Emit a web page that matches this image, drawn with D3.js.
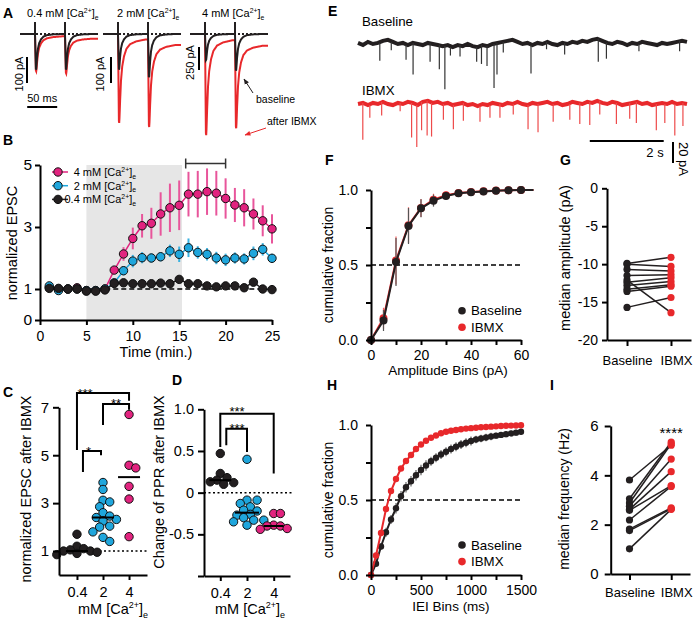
<!DOCTYPE html>
<html>
<head>
<meta charset="utf-8">
<script src="https://cdn.jsdelivr.net/npm/d3@7"></script>
<style>
body { margin: 0; background: #fff; }
svg { display: block; }
</style>
</head>
<body>
<div id="fig"></div>
<script>
// ---------------- data ----------------
// A: single EPSC shape (normalized to peak), time in ms after the stimulus
var shapeT    = [0, 0.8, 1.6, 2.5, 3.5, 5, 7, 10, 14, 20, 30, 45];
var shapeBase = [0, -0.5, -1, -0.82, -0.6, -0.38, -0.24, -0.14, -0.07, -0.03, -0.01, 0];
var shapeIbmx = [0, -0.5, -1, -0.9, -0.72, -0.5, -0.35, -0.24, -0.16, -0.11, -0.08, -0.06];
var stimTimes = [25, 75];
var aTitles = ["0.4 mM ", "2 mM ", "4 mM "];
var peakBase = [[146, 146], [146, 177], [304, 424]];
var peakIbmx = [[150, 150], [358, 352], [1150, 1000]];
var aBars = [100, 100, 250];

// B: time course
var timeMin = [1,2,3,4,5,6,7,8,9,10,11,12,13,14,15,16,17,18,19,20,21,22,23,24,25];
var epsc4  = [1.05,1.0,1.0,1.04,0.95,0.95,1.0,1.61,2.13,2.63,3.04,3.12,3.42,3.62,3.70,4.06,4.06,4.14,4.09,3.92,3.71,3.62,3.42,3.20,2.94];
var err4   = [0.05,0.04,0.03,0.04,0.04,0.04,0.05,0.12,0.22,0.35,0.38,0.5,0.7,0.78,0.8,0.72,0.75,0.75,0.72,0.65,0.55,0.6,0.5,0.5,0.47];
var epsc2  = [1.1,0.95,1.0,1.0,0.95,0.95,1.0,1.2,1.59,1.9,2.01,2.0,2.04,2.23,2.12,2.33,2.18,2.12,2.0,1.94,2.0,1.97,2.15,2.28,1.99];
var err2   = [0.05,0.04,0.03,0.03,0.03,0.03,0.04,0.1,0.15,0.2,0.18,0.15,0.15,0.2,0.25,0.3,0.2,0.2,0.2,0.2,0.18,0.18,0.22,0.2,0.15];
var epsc04 = [1.02,1.02,1.0,1.0,0.93,0.93,0.97,1.18,1.2,1.17,1.17,1.17,1.19,1.17,1.31,1.17,1.17,1.1,1.07,1.1,1.1,1.04,1.22,1.0,0.98];
var err04  = [0.03,0.03,0.03,0.03,0.03,0.03,0.03,0.06,0.07,0.06,0.06,0.06,0.07,0.06,0.08,0.07,0.07,0.06,0.06,0.06,0.06,0.06,0.07,0.05,0.05];

// C: normalized EPSC after IBMX
var caCats = ["0.4", "2", "4"];
var c04 = [1.7, 1.2, 1.1, 1.05, 1.0, 1.0, 0.95, 0.9, 0.85];
var c2  = [3.86, 3.57, 3.12, 3.05, 2.85, 2.6, 2.46, 2.4, 2.32, 2.25, 2.04, 2.0, 1.8, 1.57, 1.4];
var c4  = [6.7, 4.58, 4.47, 3.7, 3.17, 1.6];

// D: change of PPR after IBMX
var d04 = [0.47, 0.23, 0.18, 0.15, 0.13, 0.12, 0.1];
var d2  = [0.40, -0.09, -0.09, -0.13, -0.17, -0.21, -0.22, -0.26, -0.27, -0.3, -0.33, -0.33, -0.35, -0.39];
var d4  = [-0.25, -0.25, -0.39, -0.40, -0.40, -0.43, -0.44];

// E: sEPSC traces (baseline wander in pA, events as [time s, amplitude pA])
var eBaseWander = [1,-1,2,0,1,3,4,2,0,1,-1,1,0,-1,1,0,-1,-2,-1,-3,-1,-2,0,-2,-3,-1,-2,0,1,2,3,4,2,0,1,-1,1,0,2,0,-1,1,0,2,1,3,2,4,5,3,1,0,2,1,-1,1,0,2,1,0,-1,1,0,1,2,3,2];
var eIbmxWander = [0,1,-1,1,0,2,0,-1,1,0,2,1,-1,2,3,1,2,0,1,-1,0,1,-1,0,-2,0,-1,1,0,-1,1,0,2,0,-1,1,0,1,2,0,1,-1,0,2,1,0,2,1,3,1,0,2,1,-1,0,1,2,0,1,-1,0,1,0,2,0,1,0];
var eBaseEvents = [[0.59,17],[1.30,14],[1.49,30],[1.95,18],[2.20,23],[2.35,41],[2.76,11],[3.21,14],[3.34,18],[3.49,19],[3.68,42],[3.76,30],[3.93,10],[4.68,27],[5.59,11],[6.50,22],[6.72,15],[8.70,10],[0.9,8],[2.5,8],[5.1,7],[7.6,7]];
var eIbmxEvents = [[0.13,35],[0.32,12],[0.64,13],[1.14,8],[1.45,33],[1.59,40],[1.72,27],[1.87,33],[1.99,32],[2.31,15],[2.58,23],[2.85,17],[3.30,15],[3.57,12],[3.84,13],[4.20,10],[4.60,23],[4.87,27],[5.28,17],[5.73,15],[6.00,20],[6.27,22],[6.54,13],[6.99,20],[7.35,15],[7.53,20],[8.07,25],[8.30,18],[8.57,30],[8.79,22]];

// F: cumulative amplitude distribution
var ampBins = [0,5,10,15,20,25,30,35,40,45,50,55,60,65];
var fBase = [0,0.13,0.52,0.76,0.878,0.929,0.96,0.978,0.985,0.99,0.995,0.998,1.0,1.0];
var fIbmx = [0,0.145,0.53,0.765,0.88,0.935,0.965,0.98,0.987,0.992,0.996,0.999,1.0,1.0];
var fErr  = [0,0.07,0.16,0.12,0.06,0.04,0.025,0.015,0.01,0.01,0.005,0.005,0,0];

// G: median amplitude (pA), paired
var gBase = [-9.9,-10.0,-10.7,-11.5,-12.1,-12.4,-12.8,-13.3,-13.6,-15.7];
var gIbmx = [-9.1,-10.3,-10.9,-11.4,-16.4,-11.8,-12.3,-12.7,-12.9,-14.4];

// H: cumulative IEI distribution
var ieiBins = [0,50,100,150,200,250,300,350,400,450,500,550,600,650,700,750,800,850,900,950,1000,1050,1100,1150,1200,1250,1300,1350,1400,1450,1500];
var hBase = [0,0.075,0.19,0.285,0.37,0.445,0.525,0.585,0.625,0.665,0.70,0.73,0.758,0.782,0.803,0.822,0.84,0.855,0.87,0.882,0.893,0.903,0.91,0.917,0.923,0.929,0.934,0.939,0.944,0.949,0.955];
var hIbmx = [0,0.13,0.28,0.44,0.56,0.64,0.71,0.76,0.80,0.84,0.87,0.895,0.915,0.93,0.945,0.955,0.962,0.967,0.972,0.976,0.979,0.982,0.985,0.987,0.989,0.991,0.993,0.995,0.996,0.997,0.998];
var hErr  = [0,0.01,0.02,0.03,0.03,0.035,0.035,0.035,0.035,0.035,0.035,0.035,0.03,0.03,0.03,0.03,0.03,0.03,0.03,0.03,0.03,0.025,0.025,0.025,0.025,0.02,0.02,0.02,0.02,0.02,0.02];

// I: median frequency (Hz), paired
var iBase = [3.81,3.05,2.88,2.75,2.62,2.58,2.19,1.82,1.76,1.02];
var iIbmx = [5.22,5.35,5.28,4.66,4.15,3.58,3.55,2.68,2.64,2.62];

var condCats = ["Baseline", "IBMX"];

// ---------------- drawing ----------------
var FONT = '"Liberation Sans", Arial, Helvetica, sans-serif';
var cBlack = "#231f20", cRed = "#e8282b", cMag = "#e2237f", cCyan = "#1fa6dc";
var plain = function(d) { return String(d); };

var svg = d3.select("#fig").append("svg")
    .attr("width", 696).attr("height", 619)
    .attr("font-family", FONT);

function styleAxis(g, fs) {
    g.attr("font-family", FONT);
    g.select(".domain").attr("stroke", "#000").attr("stroke-width", 2);
    g.selectAll(".tick line").attr("stroke", "#000").attr("stroke-width", 2);
    g.selectAll(".tick text").attr("font-size", fs).attr("fill", "#000");
}

function vLabel(x, y, txt, fs) {
    svg.append("text")
        .attr("transform", "translate(" + x + "," + y + ") rotate(-90)")
        .attr("text-anchor", "middle").attr("font-size", fs).text(txt);
}

function panelLetter(x, y, l) {
    svg.append("text").attr("x", x).attr("y", y).attr("font-size", 14)
        .attr("font-weight", "bold").text(l);
}

// "<pre>[Ca2+]e" with super/subscripts
function caText(g, x, y, pre, fs, anchor) {
    var t = g.append("text").attr("x", x).attr("y", y).attr("font-size", fs)
        .attr("text-anchor", anchor || "start");
    t.append("tspan").text(pre + "[Ca");
    t.append("tspan").attr("font-size", fs * 0.62).attr("dy", -fs * 0.38).text("2+");
    t.append("tspan").attr("dy", fs * 0.38).text("]");
    t.append("tspan").attr("font-size", fs * 0.62).attr("dy", fs * 0.25).text("e");
    return t;
}

// ===== A =====
panelLetter(3, 18, "A");
var traceT = d3.range(0, 130.5, 0.5);
function traceVals(peaks, shape) {
    var f = d3.scaleLinear().domain(shapeT).range(shape).clamp(true);
    return traceT.map(function(t) {
        var v = 0;
        stimTimes.forEach(function(s, i) { if (t >= s) v += peaks[i] * f(t - s); });
        return v;
    });
}
var aX0 = [20, 103, 190], aBarX = [27, 111, 199], aBarY = [57, 57, 47];
var aPx = [26, 26, 23];   // px for the scale bar
var aTitleX = [27, 117, 202];
var aLabX = [19, 100, 190];
aTitles.forEach(function(title, p) {
    var g = svg.append("g");
    var x = d3.scaleLinear().domain([0, 130]).range([aX0[p], aX0[p] + 78]);
    var y = d3.scaleLinear().domain([0, -aBars[p]]).range([34, 34 + aPx[p]]);
    var line = d3.line().x(function(d, i) { return x(traceT[i]); }).y(function(d) { return y(d); });
    g.append("path").datum(traceVals(peakIbmx[p], shapeIbmx)).attr("d", line)
        .attr("fill", "none").attr("stroke", cRed).attr("stroke-width", 2);
    g.append("path").datum(traceVals(peakBase[p], shapeBase)).attr("d", line)
        .attr("fill", "none").attr("stroke", cBlack).attr("stroke-width", 2);
    g.append("line").attr("x1", x(0)).attr("x2", x(130)).attr("y1", y(0)).attr("y2", y(0))
        .attr("stroke", cBlack).attr("stroke-width", 2).attr("stroke-dasharray", "2,2");
    stimTimes.forEach(function(s) {
        g.append("line").attr("x1", x(s)).attr("x2", x(s)).attr("y1", y(0) - 12).attr("y2", y(0) + 2)
            .attr("stroke", cBlack).attr("stroke-width", 2);
    });
    // scale bar
    g.append("line").attr("x1", aBarX[p]).attr("x2", aBarX[p])
        .attr("y1", aBarY[p]).attr("y2", aBarY[p] + (y(-aBars[p]) - y(0)))
        .attr("stroke", "#000").attr("stroke-width", 2);
    g.append("text").attr("transform", "translate(" + (aLabX[p] + 4) + "," + (aBarY[p] + aPx[p] / 2 + 4) + ") rotate(-90)")
        .attr("text-anchor", "middle").attr("font-size", 11).text(aBars[p] + " pA");
    caText(g, aTitleX[p], 17, title, 11);
    if (p === 0) {
        g.append("line").attr("x1", x(12)).attr("x2", x(62)).attr("y1", 107).attr("y2", 107)
            .attr("stroke", "#000").attr("stroke-width", 2);
        g.append("text").attr("x", x(37)).attr("y", 102).attr("text-anchor", "middle")
            .attr("font-size", 11).text("50 ms");
    }
});
// arrows
var defs = svg.append("defs");
[["ahB", cBlack], ["ahR", cRed]].forEach(function(a) {
    defs.append("marker").attr("id", a[0]).attr("viewBox", "0 0 10 10").attr("refX", 9).attr("refY", 5)
        .attr("markerWidth", 6).attr("markerHeight", 6).attr("orient", "auto")
        .append("path").attr("d", "M0,1 L10,5 L0,9 z").attr("fill", a[1]);
});
svg.append("line").attr("x1", 253).attr("y1", 93).attr("x2", 244).attr("y2", 79)
    .attr("stroke", cBlack).attr("stroke-width", 1).attr("marker-end", "url(#ahB)");
svg.append("text").attr("x", 256).attr("y", 103).attr("font-size", 10.5).text("baseline");
svg.append("line").attr("x1", 266).attr("y1", 128).attr("x2", 245).attr("y2", 135)
    .attr("stroke", cRed).attr("stroke-width", 1).attr("marker-end", "url(#ahR)");
svg.append("text").attr("x", 267).attr("y", 125).attr("font-size", 10.5).text("after IBMX");

// ===== B =====
panelLetter(3, 145, "B");
var bx = d3.scaleLinear().domain([0, 25]).range([40, 272]);
var by = d3.scaleLinear().domain([0, 5]).range([320, 165]);
svg.append("rect").attr("x", bx(5)).attr("width", bx(15.3) - bx(5))
    .attr("y", by(5)).attr("height", by(0) - by(5)).attr("fill", "#e6e6e6");
svg.append("line").attr("x1", bx(1)).attr("x2", bx(24)).attr("y1", by(1)).attr("y2", by(1))
    .attr("stroke", "#000").attr("stroke-width", 1.5).attr("stroke-dasharray", "5,3");
// averaging window bracket
svg.append("path").attr("d", "M" + bx(15.7) + "," + (by(5.05) - 5) + "V" + (by(5.05) + 5) +
    "M" + bx(15.7) + "," + by(5.05) + "H" + bx(20) + "M" + bx(20) + "," + (by(5.05) - 5) + "V" + (by(5.05) + 5))
    .attr("stroke", "#333").attr("stroke-width", 1.5).attr("fill", "none");

var bSeries = [
    {v: epsc4, e: err4, c: cMag, ec: "#e8559b"},
    {v: epsc2, e: err2, c: cCyan, ec: "#3bb2e0"},
    {v: epsc04, e: err04, c: cBlack, ec: "#444"}
];
bSeries.forEach(function(s) {
    var g = svg.append("g");
    g.selectAll("line.err").data(timeMin).enter().append("line")
        .attr("x1", function(d) { return bx(d); }).attr("x2", function(d) { return bx(d); })
        .attr("y1", function(d, i) { return by(s.v[i] + s.e[i]); })
        .attr("y2", function(d, i) { return by(s.v[i] - s.e[i]); })
        .attr("stroke", s.ec).attr("stroke-width", 2);
    g.append("path").datum(s.v)
        .attr("d", d3.line().x(function(d, i) { return bx(timeMin[i]); }).y(function(d) { return by(d); }))
        .attr("fill", "none").attr("stroke", s.c).attr("stroke-width", 1.5);
    g.selectAll("circle").data(s.v).enter().append("circle")
        .attr("cx", function(d, i) { return bx(timeMin[i]); }).attr("cy", function(d) { return by(d); })
        .attr("r", 4.2).attr("fill", s.c).attr("stroke", "#111").attr("stroke-width", 1);
});
var bAxX = svg.append("g").attr("transform", "translate(0," + by(0) + ")")
    .call(d3.axisBottom(bx).tickValues([0, 5, 10, 15, 20, 25]).tickSize(5).tickSizeOuter(0).tickPadding(6).tickFormat(plain));
styleAxis(bAxX, 14);
var bAxY = svg.append("g").attr("transform", "translate(" + bx(0) + ",0)")
    .call(d3.axisLeft(by).tickValues([0, 1, 3, 5]).tickSize(5).tickSizeOuter(0).tickPadding(3).tickFormat(plain));
styleAxis(bAxY, 15.5);
svg.append("text").attr("x", 156).attr("y", 357).attr("text-anchor", "middle").attr("font-size", 14.5).text("Time (min.)");
vLabel(17, 243, "normalized EPSC", 14.5);
// legend
var bLeg = [["4 mM ", cMag], ["2 mM ", cCyan], ["0.4 mM ", cBlack]];
bLeg.forEach(function(l, i) {
    var yy = 172 + i * 13.7;
    svg.append("line").attr("x1", 52).attr("x2", 68).attr("y1", yy).attr("y2", yy)
        .attr("stroke", l[1]).attr("stroke-width", 1.5);
    svg.append("circle").attr("cx", 58).attr("cy", yy).attr("r", 4.2).attr("fill", l[1])
        .attr("stroke", "#111").attr("stroke-width", 1);
    caText(svg, 136, yy + 4, l[0], 11, "end");
});

// ===== helpers for dot plots =====
function swarm(vals, cx, y, r) {
    var placed = [];
    return vals.map(function(v) {
        var py = y(v), k = 0, px;
        while (k < 40) {
            px = cx + (k % 2 ? 1 : -1) * Math.ceil(k / 2) * r * 0.8;
            var ok = placed.every(function(p) { return Math.hypot(p[0] - px, p[1] - py) >= r * 1.6; });
            if (ok) break;
            k++;
        }
        placed.push([px, py]);
        return [px, py];
    });
}
function dotGroup(vals, cx, y, color, r, medHalf) {
    var pts = swarm(vals, cx, y, r);
    svg.append("g").selectAll("circle").data(pts).enter().append("circle")
        .attr("cx", function(d) { return d[0]; }).attr("cy", function(d) { return d[1]; })
        .attr("r", r).attr("fill", color).attr("stroke", "#111").attr("stroke-width", 1);
    var m = d3.median(vals);
    svg.append("line").attr("x1", cx - medHalf).attr("x2", cx + medHalf)
        .attr("y1", y(m)).attr("y2", y(m)).attr("stroke", "#000").attr("stroke-width", 2);
}
function bracket(x1, x2, yTop, yL, yR, stars, tx, ty, fs) {
    svg.append("path").attr("d", "M" + x1 + "," + yL + "V" + yTop + "H" + x2 + "V" + yR)
        .attr("fill", "none").attr("stroke", "#000").attr("stroke-width", 2);
    svg.append("text").attr("x", tx).attr("y", ty).attr("text-anchor", "middle")
        .attr("font-size", fs).text(stars);
}

// ===== C =====
panelLetter(3, 397, "C");
var cx = d3.scalePoint().domain(caCats).range([59, 147]).padding(0.69);
var cy = d3.scaleLinear().domain([0, 7]).range([575, 407.3]);
svg.append("line").attr("x1", 59).attr("x2", 147).attr("y1", cy(1)).attr("y2", cy(1))
    .attr("stroke", "#000").attr("stroke-width", 1.5).attr("stroke-dasharray", "2,2.5");
dotGroup(c04, cx("0.4"), cy, cBlack, 4.2, 11);
dotGroup(c2, cx("2"), cy, cCyan, 4.2, 11);
dotGroup(c4, cx("4"), cy, cMag, 4.2, 11);
var cAxX = svg.append("g").attr("transform", "translate(0," + cy(0) + ")")
    .call(d3.axisBottom(cx).tickSize(5).tickSizeOuter(0).tickPadding(7));
styleAxis(cAxX, 14.5);
var cAxY = svg.append("g").attr("transform", "translate(59,0)")
    .call(d3.axisLeft(cy).tickValues([1, 3, 5, 7]).tickSize(6).tickSizeOuter(0).tickPadding(4).tickFormat(plain));
styleAxis(cAxY, 15);
caText(svg, 78, 614, "mM ", 14.5);
vLabel(31, 489, "normalized EPSC after IBMX", 14.5);
bracket(cx("0.4"), cx("4"), cy(7.6), cy(5.22), cy(7.27), "***", 85, 397.6, 13);
bracket(cx("2"), cx("4"), cy(7.14), cy(6.26), cy(6.9), "**", 116, 407.6, 13);
bracket(cx("0.4") + 6, cx("2") - 2, cy(5.18), cy(4.3), cy(5.0), "*", 88.5, 455.6, 13);

// ===== D =====
panelLetter(172, 385, "D");
var dx = d3.scalePoint().domain(caCats).range([204, 290]).padding(0.61);
var dy = d3.scaleLinear().domain([-1, 1]).range([576, 409.3]);
svg.append("line").attr("x1", 204).attr("x2", 293).attr("y1", dy(0)).attr("y2", dy(0))
    .attr("stroke", "#000").attr("stroke-width", 1.5).attr("stroke-dasharray", "2,2.5");
dotGroup(d04, dx("0.4"), dy, cBlack, 4.2, 11);
dotGroup(d2, dx("2"), dy, cCyan, 4.2, 12);
dotGroup(d4, dx("4"), dy, cMag, 4.2, 10);
var dAxX = svg.append("g").attr("transform", "translate(0," + dy(-1) + ")")
    .call(d3.axisBottom(dx).tickSize(5).tickSizeOuter(0).tickPadding(7));
styleAxis(dAxX, 14.5);
var dAxY = svg.append("g").attr("transform", "translate(204,0)")
    .call(d3.axisLeft(dy).tickValues([-1, -0.5, 0, 0.5, 1]).tickSize(6).tickSizeOuter(0).tickPadding(4)
        .tickFormat(function(d) { return d === -1 ? "" : d === 0 ? "0" : d3.format(".1f")(d).replace("\u2212", "-"); }));
styleAxis(dAxY, 14.5);
caText(svg, 215, 614, "mM ", 14.5);
vLabel(164, 482, "Change of PPR after IBMX", 14.5);
bracket(dx("0.4"), dx("4"), dy(0.948), dy(0.547), dy(0.23), "***", 237, 415.6, 13);
bracket(dx("0.4") + 6, dx("2"), dy(0.768), dy(0.568), dy(0.487), "***", 237, 432.6, 13);

// ===== E =====
panelLetter(328, 16, "E");
var ex = d3.scaleLinear().domain([0, 8.9]).range([358, 687]);
function drawTrace(wander, events, y0, color, spikeColor) {
    var wi = d3.scaleLinear().domain([0, wander.length - 1]).range([0, 8.9]);
    var y = d3.scaleLinear().domain([0, -20]).range([y0, y0 + 21]);
    svg.append("path").datum(wander)
        .attr("d", d3.line().x(function(d, i) { return ex(wi(i)); }).y(function(d) { return y(d); }))
        .attr("fill", "none").attr("stroke", color).attr("stroke-width", 4).attr("stroke-linejoin", "miter");
    svg.append("g").selectAll("line").data(events).enter().append("line")
        .attr("x1", function(d) { return ex(d[0]); }).attr("x2", function(d) { return ex(d[0]); })
        .attr("y1", function(d) { return y(wander[Math.round(wi.invert(d[0]))]); })
        .attr("y2", function(d) { return y(wander[Math.round(wi.invert(d[0]))] - d[1]); })
        .attr("stroke", spikeColor).attr("stroke-width", 1.2);
}
drawTrace(eBaseWander, eBaseEvents, 44, cBlack, "#333");
drawTrace(eIbmxWander, eIbmxEvents, 104, cRed, "#ee4a4a");
svg.append("text").attr("x", 362).attr("y", 26).attr("font-size", 13.3).text("Baseline");
svg.append("text").attr("x", 362).attr("y", 95).attr("font-size", 13.3).text("IBMX");
svg.append("line").attr("x1", ex(6.27)).attr("x2", ex(8.27)).attr("y1", 141).attr("y2", 141)
    .attr("stroke", "#000").attr("stroke-width", 2);
svg.append("text").attr("x", ex(8.27)).attr("y", 157).attr("text-anchor", "end").attr("font-size", 13).text("2 s");
svg.append("line").attr("x1", 673).attr("x2", 673).attr("y1", 142).attr("y2", 163)
    .attr("stroke", "#000").attr("stroke-width", 2);
svg.append("text").attr("transform", "translate(679,142) rotate(90)").attr("font-size", 13).text("20 pA");

// ===== F =====
panelLetter(325, 165, "F");
var fx = d3.scaleLinear().domain([0, 60]).range([371, 521]);
var fy = d3.scaleLinear().domain([0, 1]).range([340, 190]);
svg.append("line").attr("x1", fx(0)).attr("x2", fx(60)).attr("y1", fy(0.5)).attr("y2", fy(0.5))
    .attr("stroke", "#000").attr("stroke-width", 1.5).attr("stroke-dasharray", "5,3");
function cumSeries(bins, vals, errs, xs, ys, color, errColor, r, lastMarker) {
    var g = svg.append("g");
    g.selectAll("line").data(bins).enter().append("line")
        .attr("x1", function(d) { return xs(d); }).attr("x2", function(d) { return xs(d); })
        .attr("y1", function(d, i) { return ys(vals[i] + errs[i]); })
        .attr("y2", function(d, i) { return ys(vals[i] - errs[i]); })
        .attr("stroke", errColor).attr("stroke-width", 1.2);
    g.append("path").datum(vals)
        .attr("d", d3.line().x(function(d, i) { return xs(bins[i]); }).y(function(d) { return ys(d); }))
        .attr("fill", "none").attr("stroke", color).attr("stroke-width", 2);
    g.selectAll("circle").data(bins.filter(function(d) { return d <= lastMarker; })).enter().append("circle")
        .attr("cx", function(d) { return xs(d); }).attr("cy", function(d, i) { return ys(vals[i]); })
        .attr("r", r).attr("fill", color);
}
cumSeries(ampBins, fIbmx, fErr, fx, fy, cRed, "#f06060", 4, 60);
cumSeries(ampBins, fBase, fErr, fx, fy, cBlack, "#555", 4, 60);
var fAxX = svg.append("g").attr("transform", "translate(0," + fy(0) + ")")
    .call(d3.axisBottom(fx).tickValues([0, 10, 20, 30, 40, 50, 60]).tickSize(5).tickSizeOuter(0).tickPadding(5)
        .tickFormat(function(d) { return d % 20 === 0 ? d : ""; }));
styleAxis(fAxX, 14);
var fAxY = svg.append("g").attr("transform", "translate(" + fx(0) + ",0)")
    .call(d3.axisLeft(fy).tickValues([0, 0.25, 0.5, 0.75, 1]).tickSize(5).tickSizeOuter(0).tickPadding(8)
        .tickFormat(function(d) { return d % 0.5 === 0 ? d3.format(".1f")(d) : ""; }));
styleAxis(fAxY, 14);
svg.append("text").attr("x", 448).attr("y", 375).attr("text-anchor", "middle").attr("font-size", 13.5).text("Amplitude Bins (pA)");
vLabel(333, 265, "cumulative fraction", 14);
function cumLegend(y1) {
    svg.append("circle").attr("cx", 462).attr("cy", y1).attr("r", 3.8).attr("fill", cBlack);
    svg.append("text").attr("x", 471).attr("y", y1 + 4.6).attr("font-size", 13.3).text("Baseline");
    svg.append("circle").attr("cx", 462).attr("cy", y1 + 16.6).attr("r", 3.8).attr("fill", cRed);
    svg.append("text").attr("x", 471).attr("y", y1 + 21.2).attr("font-size", 13.3).text("IBMX");
}
cumLegend(310.7);

// ===== G =====
panelLetter(560, 165, "G");
var gx = d3.scalePoint().domain(condCats).range([607, 691]).padding(0.455);
var gy = d3.scaleLinear().domain([-20, 0]).range([340, 188.3]);
function pairedPlot(base, ibmx, xs, ys) {
    var g = svg.append("g");
    g.selectAll("line").data(base).enter().append("line")
        .attr("x1", xs("Baseline")).attr("x2", xs("IBMX"))
        .attr("y1", function(d) { return ys(d); }).attr("y2", function(d, i) { return ys(ibmx[i]); })
        .attr("stroke", cBlack).attr("stroke-width", 1.5);
    g.selectAll("circle.b").data(base).enter().append("circle")
        .attr("cx", xs("Baseline")).attr("cy", function(d) { return ys(d); }).attr("r", 3.6).attr("fill", cBlack);
    g.selectAll("circle.r").data(ibmx).enter().append("circle")
        .attr("cx", xs("IBMX")).attr("cy", function(d) { return ys(d); }).attr("r", 3.6).attr("fill", cRed);
}
function nudgeIbmx(ax) {
    ax.selectAll(".tick text").filter(function(d) { return d === "IBMX"; }).attr("dx", 5);
}
pairedPlot(gBase, gIbmx, gx, gy);
var gAxX = svg.append("g").attr("transform", "translate(0," + gy(-20) + ")")
    .call(d3.axisBottom(gx).tickSize(6).tickSizeOuter(0).tickPadding(10));
styleAxis(gAxX, 13);
nudgeIbmx(gAxX);
var gAxY = svg.append("g").attr("transform", "translate(607,0)")
    .call(d3.axisLeft(gy).tickValues([-20, -15, -10, -5, 0]).tickSize(5).tickSizeOuter(0).tickPadding(4).tickFormat(plain));
styleAxis(gAxY, 14);
vLabel(570, 258, "median amplitude (pA)", 14.5);

// ===== H =====
panelLetter(327, 390, "H");
var hx = d3.scaleLinear().domain([0, 1500]).range([371, 521]);
var hy = d3.scaleLinear().domain([0, 1]).range([575, 425]);
svg.append("line").attr("x1", hx(0)).attr("x2", hx(1500)).attr("y1", hy(0.5)).attr("y2", hy(0.5))
    .attr("stroke", "#000").attr("stroke-width", 1.5).attr("stroke-dasharray", "5,3");
cumSeries(ieiBins, hBase, hErr, hx, hy, cBlack, "#666", 3.2, 1500);
cumSeries(ieiBins, hIbmx, ieiBins.map(function() { return 0; }), hx, hy, cRed, cRed, 3.2, 1500);
var hAxX = svg.append("g").attr("transform", "translate(0," + hy(0) + ")")
    .call(d3.axisBottom(hx).tickValues([0, 250, 500, 750, 1000, 1250, 1500]).tickSize(5).tickSizeOuter(0).tickPadding(5)
        .tickFormat(function(d) { return d % 500 === 0 ? d : ""; }));
styleAxis(hAxX, 14);
var hAxY = svg.append("g").attr("transform", "translate(" + hx(0) + ",0)")
    .call(d3.axisLeft(hy).tickValues([0, 0.25, 0.5, 0.75, 1]).tickSize(5).tickSizeOuter(0).tickPadding(8)
        .tickFormat(function(d) { return d % 0.5 === 0 ? d3.format(".1f")(d) : ""; }));
styleAxis(hAxY, 14);
svg.append("text").attr("x", 451).attr("y", 611).attr("text-anchor", "middle").attr("font-size", 13.5).text("IEI Bins (ms)");
vLabel(333, 500, "cumulative fraction", 14);
cumLegend(545);

// ===== I =====
panelLetter(550, 390, "I");
var ix = d3.scalePoint().domain(condCats).range([610.7, 690]).padding(0.45);
var iy = d3.scaleLinear().domain([0, 6]).range([574, 426]);
pairedPlot(iBase, iIbmx, ix, iy);
var iAxX = svg.append("g").attr("transform", "translate(0," + iy(0) + ")")
    .call(d3.axisBottom(ix).tickSize(6).tickSizeOuter(0).tickPadding(8));
styleAxis(iAxX, 13);
nudgeIbmx(iAxX);
var iAxY = svg.append("g").attr("transform", "translate(610.7,0)")
    .call(d3.axisLeft(iy).tickValues([0, 2, 4, 6]).tickSize(6).tickSizeOuter(0).tickPadding(6).tickFormat(plain));
styleAxis(iAxY, 15);
vLabel(569, 499, "median frequency (Hz)", 14);
svg.append("text").attr("x", ix("IBMX")).attr("y", 437.5).attr("text-anchor", "middle").attr("font-size", 15).text("****");
</script>
</body>
</html>
